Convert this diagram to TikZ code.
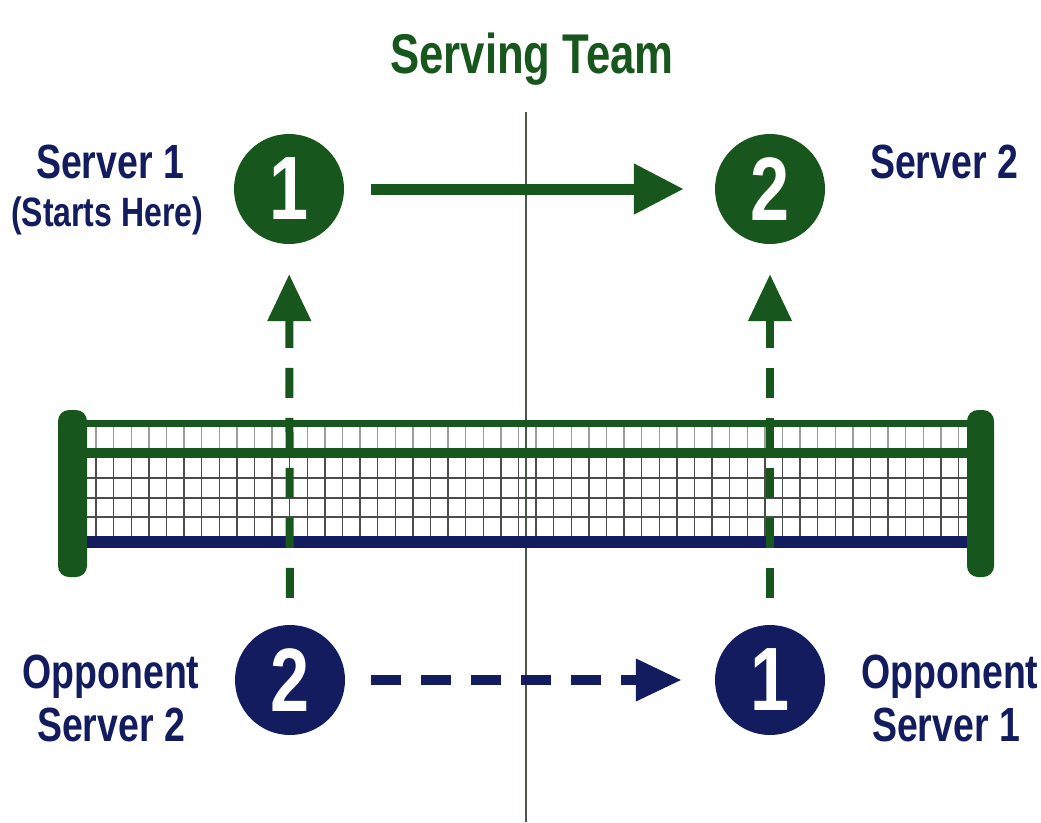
\documentclass[tikz,border=0pt]{standalone}
\usepackage{fontspec}
\newfontfamily\cond[FakeStretch=0.78]{Liberation Sans}
\usetikzlibrary{arrows.meta}
\definecolor{tgreen}{HTML}{17561C}
\definecolor{tnavy}{HTML}{121C5E}
\definecolor{vline}{HTML}{4A554C}
\definecolor{mesh}{HTML}{4C4C4C}
\begin{document}
\begin{tikzpicture}[x=1pt,y=-1pt,
  player/.style={circle, minimum size=110pt, inner sep=0pt, text=white,
    font=\cond\bfseries\fontsize{90}{90}\selectfont},
  lbl/.style={text=tnavy, anchor=base, inner sep=0pt,
    font=\cond\bfseries\fontsize{48}{52}\selectfont},
  small/.style={lbl, font=\cond\bfseries\fontsize{41}{44}\selectfont},
  title/.style={text=tgreen, anchor=base, inner sep=0pt,
    font=\cond\bfseries\fontsize{56}{60}\selectfont},
  band/.style={line width=#1},
  post/.style={fill=tgreen, rounded corners=11pt},
  solidarrow/.style={tgreen, line width=11pt, -{Triangle[length=50pt,width=48pt]}},
  vdash/.style={tgreen, line width=8pt, dash pattern=on 30pt off 20pt, -{Triangle[length=47pt,width=42pt]}},
  hdash/.style={tnavy, line width=10pt, dash pattern=on 30pt off 20pt, -{Triangle[length=46pt,width=40pt]}}
]
\useasboundingbox (0,0) rectangle (1041,822);
\fill[white] (0,0) rectangle (1041,822);

% centre line
\coordinate (ctop) at (526,112);
\coordinate (cbot) at (526,822);
\draw[vline, line width=2pt] (ctop) -- (cbot);

% title
\node[title] (title) at (532,73) {Serving Team};

% net mesh
\foreach \i in {0,...,49} {
  \draw[mesh!55, line width=1.4pt] (96+\i*17.6,427) -- (96+\i*17.6,448);
  \draw[mesh, line width=1.4pt] (96+\i*17.6,458) -- (96+\i*17.6,536);
}
\foreach \yy in {478,498,517} {
  \draw[mesh, line width=1.4pt] (87,\yy) -- (968,\yy);
}
% net bands
\draw[tgreen, line width=7pt] (80,423.5) -- (975,423.5);
\draw[tgreen, line width=10pt] (80,453) -- (975,453);
\draw[tnavy, line width=12pt] (80,542) -- (975,542);
% posts
\fill[post] (58,410) rectangle (87,577);
\fill[post] (967,410) rectangle (994,577);

% players
\node[player, fill=tgreen] (s1) at (289,189) {1};
\node[player, fill=tgreen] (s2) at (770,189) {2};
\node[player, fill=tnavy] (o2) at (290,680) {2};
\node[player, fill=tnavy] (o1) at (770,680) {1};

% labels
\node[lbl] (ls1) at (110,178) {Server 1};
\node[small] (lsh) at (107,226) {(Starts Here)};
\node[lbl] (ls2) at (944,178) {Server 2};
\node[lbl] (lo2a) at (111,688) {Opponent};
\node[lbl] (lo2b) at (111,741) {Server 2};
\node[lbl] (lo1a) at (950,688) {Opponent};
\node[lbl] (lo1b) at (946,741) {Server 1};

% arrows
\draw[solidarrow, shorten <=27pt, shorten >=31pt] (s1) -- (s2);
\draw[hdash, shorten <=26pt, shorten >=33pt] (o2) -- (o1);
\draw[vdash, shorten <=27pt, shorten >=30pt] (o2) -- (s1);
\draw[vdash, shorten <=27pt, shorten >=30pt] (o1) -- (s2);
\end{tikzpicture}
\end{document}
